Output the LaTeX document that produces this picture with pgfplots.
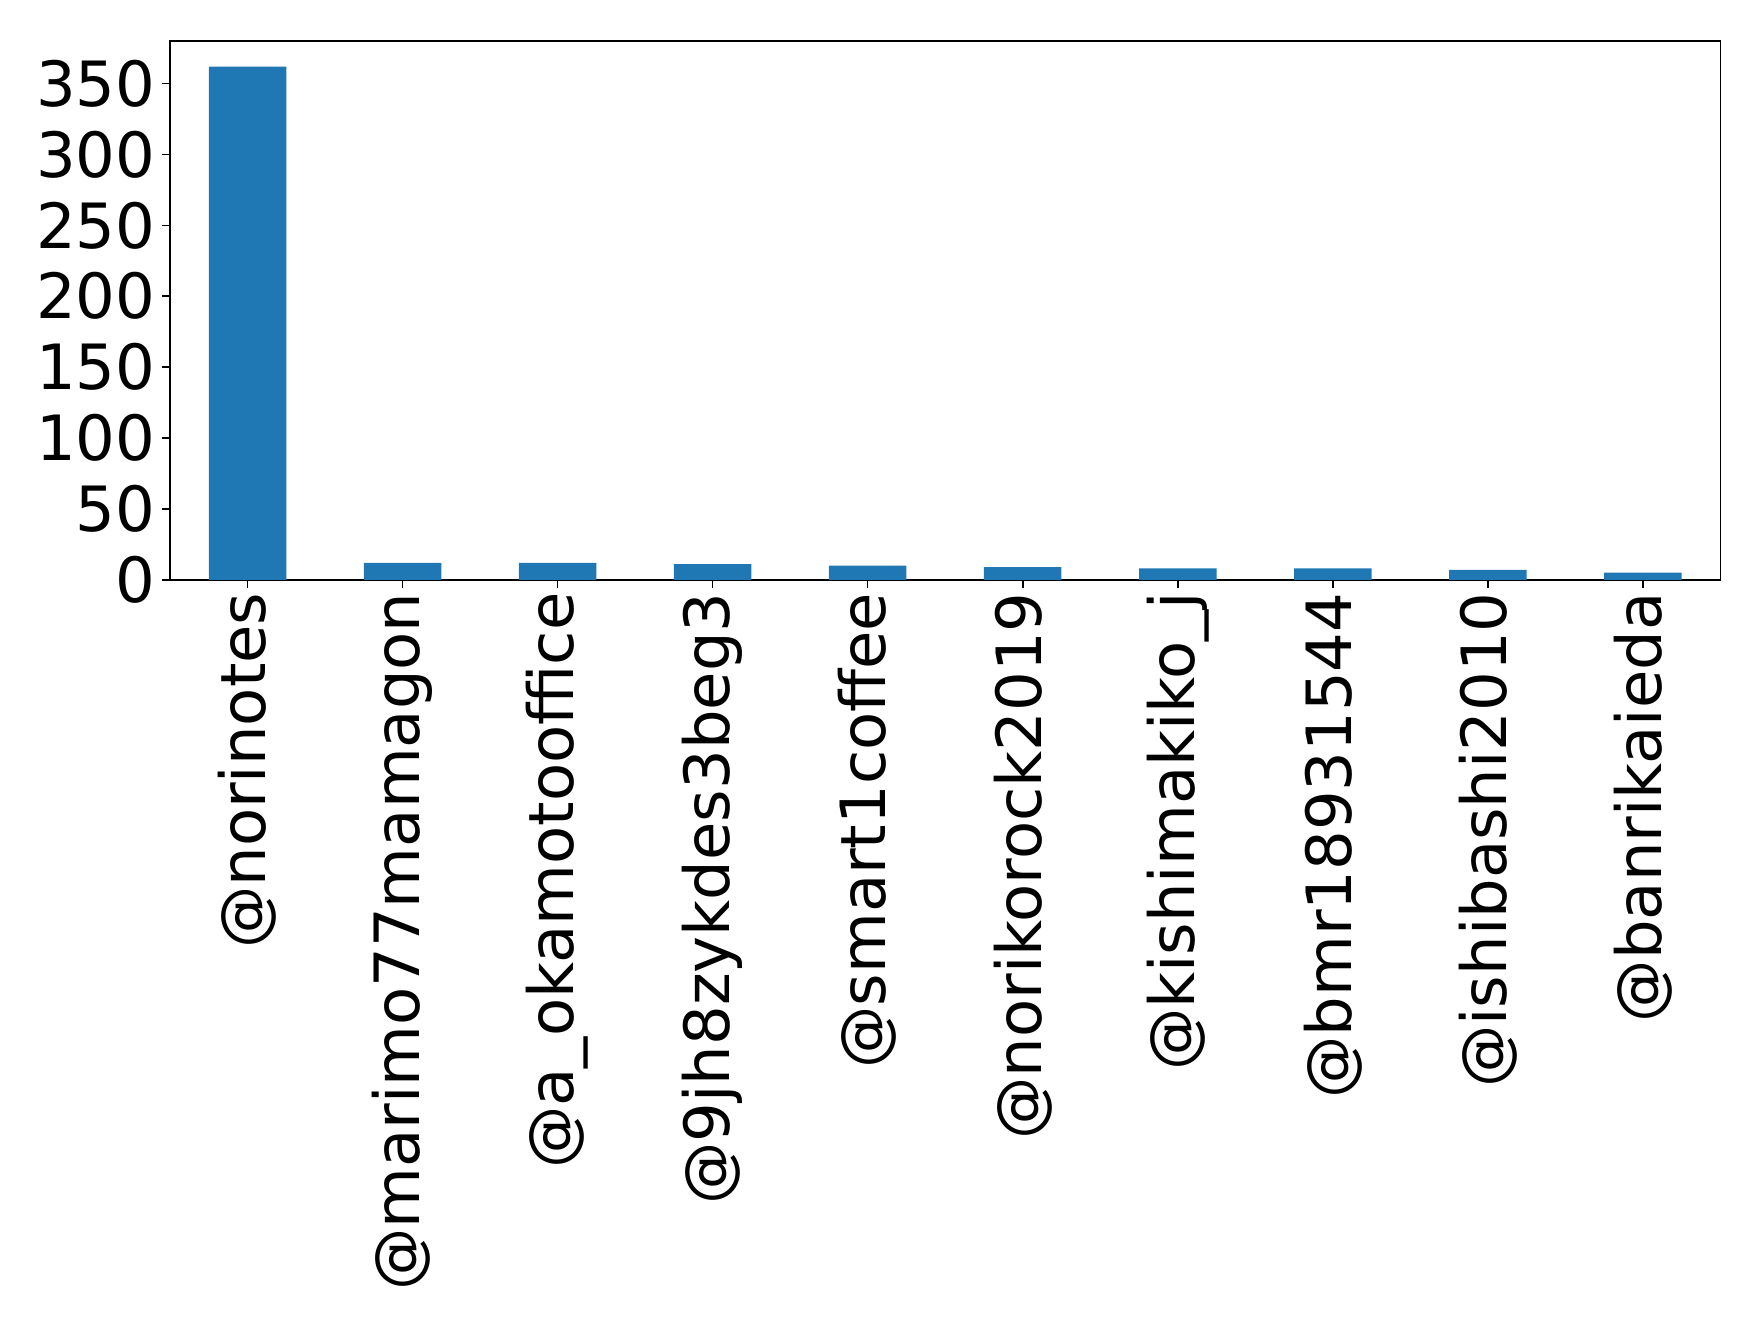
\documentclass[border=0pt]{standalone}
\usepackage{pgfplots}
\pgfplotsset{compat=1.18}
\usepackage{fontspec}
\setmainfont{DejaVu Sans}
\definecolor{tabblue}{HTML}{1F77B4}
\begin{document}
\begin{tikzpicture}
\begin{axis}[
    scale only axis, width=387.6pt, height=134.7pt,
    xmin=-0.5, xmax=9.5, ymin=0, ymax=380,
    ybar, bar width=0.5,
    xtick=data,
    xticklabels={@norinotes,@marimo77mamagon,@a\_okamotooffice,@9jh8zykdes3beg3,@smart1coffee,@norikorock2019,@kishimakiko\_j,@bmr18931544,@ishibashi2010,@banrikaieda},
    ytick={0,50,...,350},
    tick align=outside, tick pos=left, major tick length=2pt,
    axis line style={line width=0.4pt}, tick style={line width=0.4pt, black},
    ticklabel style={font=\fontsize{15.6pt}{18pt}\selectfont},
    xticklabel style={rotate=90, anchor=east, inner sep=1pt},
    yticklabel style={inner sep=1.5pt},
    /pgf/number format/assume math mode=true,
]
\addplot[fill=tabblue, draw=none] coordinates {
    (0,362) (1,12) (2,12) (3,11) (4,10) (5,9) (6,8) (7,8) (8,7) (9,5)
};
\coordinate (bl) at (rel axis cs:0,0);
\coordinate (tr) at (rel axis cs:1,1);
\end{axis}
\pgfresetboundingbox
\path[use as bounding box] ([shift={(-42.5pt,-186.25pt)}]bl) rectangle ([shift={(9.65pt,10.25pt)}]tr);
\end{tikzpicture}
\end{document}
